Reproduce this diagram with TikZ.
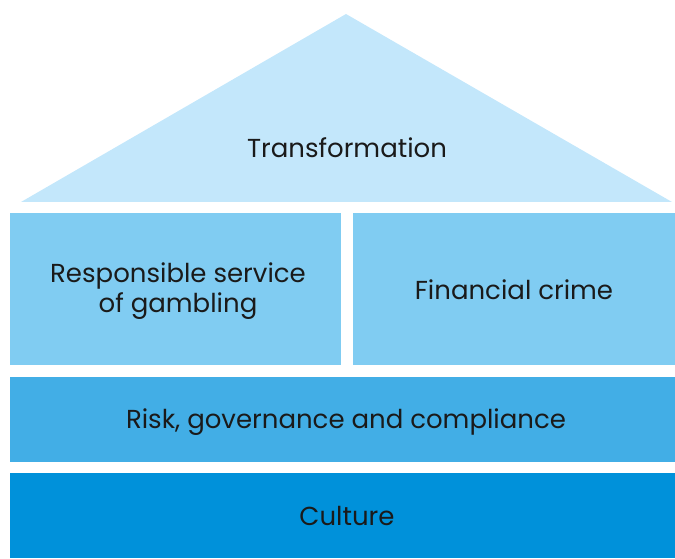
\documentclass[tikz,border=0pt]{standalone}
\usepackage{fontspec}
\setmainfont{Poppins}
\definecolor{roofblue}{HTML}{C3E7FB}
\definecolor{pillarblue}{HTML}{80CCF2}
\definecolor{floorblue}{HTML}{42AEE6}
\definecolor{baseblue}{HTML}{0091DA}
\definecolor{inktext}{HTML}{1A1A1A}
\begin{document}
\begin{tikzpicture}[x=1pt,y=1pt,
  label text/.style={text=inktext, font=\fontsize{26}{30}\selectfont, inner sep=0pt, anchor=base}]
  \useasboundingbox (0,0) rectangle (675,558);
  % roof
  \fill[roofblue] (21,356) -- (346,544) -- (672,356) -- cycle;
  % pillars
  \fill[pillarblue] (10,193) rectangle (341,345);
  \fill[pillarblue] (353,193) rectangle (675,345);
  % floors
  \fill[floorblue] (10,96) rectangle (675,181);
  \fill[baseblue] (10,0) rectangle (675,85);
  % labels, placed by their baselines
  \node[label text] (roof) at (347,400) {Transformation};
  \node[label text] (rsg1) at (178,276) {Responsible service};
  \node[label text] (rsg2) at (178,246) {of gambling};
  \node[label text] (fin) at (514,259) {Financial crime};
  \node[label text] (risk) at (346,130) {Risk, governance and compliance};
  \node[label text] (culture) at (347,33) {Culture};
\end{tikzpicture}
\end{document}
